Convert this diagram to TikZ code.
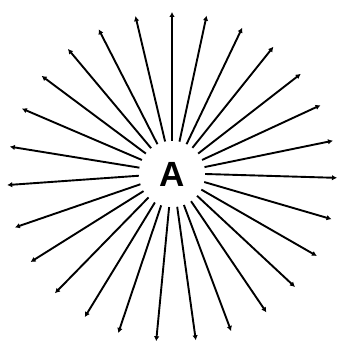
\documentclass[tikz,border=0pt]{standalone}
\usepackage{fontspec}
\setsansfont{Liberation Sans}
\usetikzlibrary{arrows.meta, positioning}
\tikzset{
  ray/.style={-{Latex[length=5pt,width=5.5pt]}, line width=1.9pt}, % the spokes
  % the letter in the middle, the circle keeps the spokes off it
  hub/.style={circle, minimum size=66pt, inner sep=0pt,
    font=\sffamily\bfseries\fontsize{35}{35}\selectfont},
}

\begin{document}
\begin{tikzpicture}[x=1pt,y=1pt]
    \useasboundingbox (-172,-167) rectangle (166,177);
    \node[hub] (A) at (0,3) {A};

    \foreach \ang [count=\i] in {90, 77.9, 64.8, 52.1, 38.7, 25.8, 12.7,
      -0.3, -14.8, -28.6, -41.8, -55.1, -69, -81.7, -95.5, -109, -121.9,
      -135.2, -149, -162.2, -177.2, 169.4, 155.5, 142.2, 129.1, 116.4, 102.8}
    {
      \coordinate (tip\i) at (\ang:165);
      \draw[ray] (A.\ang) -- (tip\i);
    }
\end{tikzpicture}
\end{document}
